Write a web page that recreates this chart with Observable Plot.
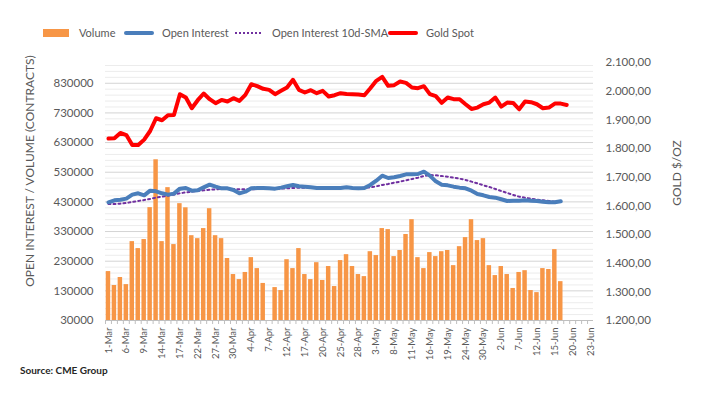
<!DOCTYPE html>
<html><head><meta charset="utf-8">
<script src="https://cdn.jsdelivr.net/npm/d3@7"></script>
<script src="https://cdn.jsdelivr.net/npm/@observablehq/plot@0.6"></script>
<style>
body{margin:0;background:#fff;font-family:Lato,"Open Sans",sans-serif;}
#wrap{position:relative;width:708px;height:396px;overflow:hidden;background:#fff;}
#chart{position:absolute;left:0;top:0;}
.lt{position:absolute;top:24px;height:18px;line-height:18px;font-size:11px;color:#595959;white-space:nowrap;}
.sw{position:absolute;}
.title{position:absolute;width:300px;text-align:center;font-size:12px;color:#595959;transform:rotate(-90deg);white-space:nowrap;line-height:16px;}
#src{position:absolute;left:20px;top:364px;font-size:10px;font-weight:bold;color:#262626;}
</style></head>
<body>
<div id="wrap">
  <div id="chart"></div>
  <div class="sw" style="left:43px;top:29px;width:26px;height:8px;background:#F79646"></div>
  <div class="lt" style="left:79px">Volume</div>
  <svg class="sw" style="left:123px;top:29px" width="32" height="8"><line x1="3" y1="4" x2="29" y2="4" stroke="#4a7ebb" stroke-width="4" stroke-linecap="round"/></svg>
  <div class="lt" style="left:162px">Open Interest</div>
  <svg class="sw" style="left:233px;top:29px" width="32" height="8"><line x1="2" y1="4" x2="30" y2="4" stroke="#7030a0" stroke-width="2" stroke-dasharray="2,2"/></svg>
  <div class="lt" style="left:272px">Open Interest 10d-SMA</div>
  <svg class="sw" style="left:387px;top:29px" width="32" height="8"><line x1="3" y1="4" x2="29" y2="4" stroke="#ff0000" stroke-width="4" stroke-linecap="round"/></svg>
  <div class="lt" style="left:426px">Gold Spot</div>
  <div class="title" style="left:-120px;top:163px">OPEN INTEREST / VOLUME (CONTRACTS)</div>
  <div class="title" style="left:527px;top:165px">GOLD $/OZ</div>
  <div id="src">Source: CME Group</div>
</div>
<script>
const dates = [
 "1-Mar","2-Mar","3-Mar","6-Mar","7-Mar","8-Mar","9-Mar","10-Mar","13-Mar","14-Mar","15-Mar","16-Mar","17-Mar","20-Mar","21-Mar","22-Mar","23-Mar","24-Mar","27-Mar","28-Mar","29-Mar","30-Mar","31-Mar",
 "3-Apr","4-Apr","5-Apr","6-Apr","7-Apr","10-Apr","11-Apr","12-Apr","13-Apr","14-Apr","17-Apr","18-Apr","19-Apr","20-Apr","21-Apr","24-Apr","25-Apr","26-Apr","27-Apr","28-Apr",
 "1-May","2-May","3-May","4-May","5-May","8-May","9-May","10-May","11-May","12-May","15-May","16-May","17-May","18-May","19-May","22-May","23-May","24-May","25-May","26-May","30-May","31-May",
 "1-Jun","2-Jun","5-Jun","6-Jun","7-Jun","8-Jun","9-Jun","12-Jun","13-Jun","14-Jun","15-Jun","16-Jun","19-Jun","20-Jun","21-Jun","22-Jun","23-Jun"
];
const tickLabels = ["1-Mar","6-Mar","9-Mar","14-Mar","17-Mar","22-Mar","27-Mar","30-Mar","4-Apr","7-Apr","12-Apr","17-Apr","20-Apr","25-Apr","28-Apr","3-May","8-May","11-May","16-May","19-May","24-May","30-May","2-Jun","7-Jun","12-Jun","15-Jun","20-Jun","23-Jun"];
const volume = [195000,148000,175000,151000,296000,272500,303000,410600,572000,296000,478000,286000,424000,410000,316000,306000,340000,407000,316000,306000,
 239000,185000,168000,192000,242000,205000,155000,null,141000,131000,235000,205000,272500,185000,168000,225000,165000,212000,144500,232000,
 252000,212000,185000,178000,262000,249000,340000,336500,245500,266000,320000,370000,242000,205000,259000,245500,262000,266000,215000,279000,
 309500,370000,299500,306000,215000,181500,212000,185000,138000,192000,198000,131000,124000,205000,202000,269000,161000];
const openInterest = [428600,435300,437500,441000,454400,458900,452100,467900,465600,458900,454400,457800,474600,476800,467900,469000,479100,488100,481300,475700,
 475700,470100,458900,464500,475700,476800,476800,475700,474600,478000,482500,487000,482500,481300,479100,476800,476800,476800,476800,476800,
 479100,476800,475700,476800,487000,501500,518400,510500,512800,517300,522900,522900,524000,531900,518400,499300,488100,485800,481300,478000,
 475700,467900,456600,452100,446500,444300,438700,433100,434200,434200,435300,434200,433100,430800,428600,428600,432000];
const oiSma = [423000,423000,424100,426300,429700,433100,436400,439800,444300,447600,451000,454400,458900,462200,464500,466700,469000,471200,472300,473500,
 473500,473500,472300,472300,472300,473500,473500,473500,473500,474600,475700,476800,477900,478000,478000,478000,478000,478000,478000,477900,
 477900,476800,476800,477900,479100,482500,487000,490300,494800,498200,502700,507200,511600,517300,520600,519500,517300,515000,511600,508300,
 503800,498200,492600,485800,480200,473500,466700,460000,453300,447600,444300,440900,437500,435300,433100,430800,429700];
const goldSpot = [1834.6,1835.7,1854.3,1847,1812.3,1812,1831,1861,1905.5,1898.5,1916,1917,1989.5,1977.8,1940.5,1968.5,1991.8,1972,1958,1969.6,
 1963.8,1975.5,1966.1,1987.1,2024.4,2017.4,2008.1,2004.6,1989.5,2001.1,2012.8,2039.6,2004.6,1995.3,2003.5,1993,2001,1981.4,1986,1993,
 1990,1989.5,1988.4,1986,2010.4,2036,2050,2018.6,2021,2033.7,2029,2012.8,2010.4,2017.4,1989.5,1982.5,1959.2,1977.8,1972,1972,
 1954.4,1938,1942.7,1954.4,1960.2,1977.8,1946.3,1960.2,1959,1936.9,1963.8,1961.5,1954.4,1940.5,1942.7,1956.6,1956.6,1952];
const leftTicks = [30000,130000,230000,330000,430000,530000,630000,730000,830000];
const rightTicks = [1200,1300,1400,1500,1600,1700,1800,1900,2000,2100];

const L0 = 30000, L1 = 900000, R0 = 1200, R1 = 2100;
const toLeft = g => L0 + (g - R0) * (L1 - L0) / (R1 - R0);
const fromLeft = v => R0 + (v - L0) * (R1 - R0) / (L1 - L0);
const eu = d3.formatLocale({decimal: ",", thousands: ".", grouping: [3], currency: ["", ""]}).format(",.2f");

const volData = volume.map((v, i) => ({date: dates[i], v})).filter(d => d.v != null);
const oiData = openInterest.map((v, i) => ({date: dates[i], v}));
const smaData = oiSma.map((v, i) => ({date: dates[i], v}));
const goldData = goldSpot.map((g, i) => ({date: dates[i], v: toLeft(g)}));

const gridAll = d3.range(L0, L1, 20000);
const gridMajor = gridAll.filter(v => (v - L0) % 100000 === 0);
const gridMinor = gridAll.filter(v => (v - L0) % 100000 !== 0);

const W = 708, ML = 105, MR = 115;
const step = (W - ML - MR) / dates.length;

const chart = Plot.plot({
  width: W, height: 396,
  marginTop: 62, marginBottom: 76, marginLeft: ML, marginRight: MR,
  style: {fontFamily: "Lato, 'Open Sans', sans-serif", background: "transparent"},
  x: {type: "band", domain: dates, paddingInner: 0.25, paddingOuter: 0.125, axis: null},
  y: {domain: [L0, L1], axis: null},
  marks: [
    Plot.ruleY(gridMinor, {stroke: "#ececec", strokeWidth: 1}),
    Plot.ruleY(gridMajor, {stroke: "#d4d4d4", strokeWidth: 1}),
    Plot.barY(volData, {x: "date", y1: L0, y2: "v", fill: "#F79646"}),
    Plot.line(smaData, {x: "date", y: "v", stroke: "#7030a0", strokeWidth: 2, strokeDasharray: "2,3"}),
    Plot.line(oiData, {x: "date", y: "v", stroke: "#4a7ebb", strokeWidth: 4, strokeLinejoin: "round", strokeLinecap: "round"}),
    Plot.line(goldData, {x: "date", y: "v", stroke: "#ff0000", strokeWidth: 4, strokeLinejoin: "round", strokeLinecap: "round"}),
    Plot.ruleY([L0], {stroke: "#bfbfbf", strokeWidth: 1}),
    Plot.axisX(dates, {tickSize: 4, tickFormat: () => "", dx: -step / 2, stroke: "#bfbfbf", label: null}),
    Plot.axisX(tickLabels, {tickSize: 0, tickPadding: 7, tickRotate: -90, fontSize: 9.5, color: "#595959", label: null}),
    Plot.axisY(leftTicks, {anchor: "left", tickSize: 0, tickPadding: 12, fontSize: 11.5, color: "#595959", label: null, tickFormat: d => String(d)}),
    Plot.axisY(rightTicks.map(toLeft), {anchor: "right", tickSize: 0, tickPadding: 12, fontSize: 11.5, color: "#595959", label: null, tickFormat: v => eu(Math.round(fromLeft(v)))})
  ]
});
document.getElementById("chart").appendChild(chart);
</script>
</body></html>
